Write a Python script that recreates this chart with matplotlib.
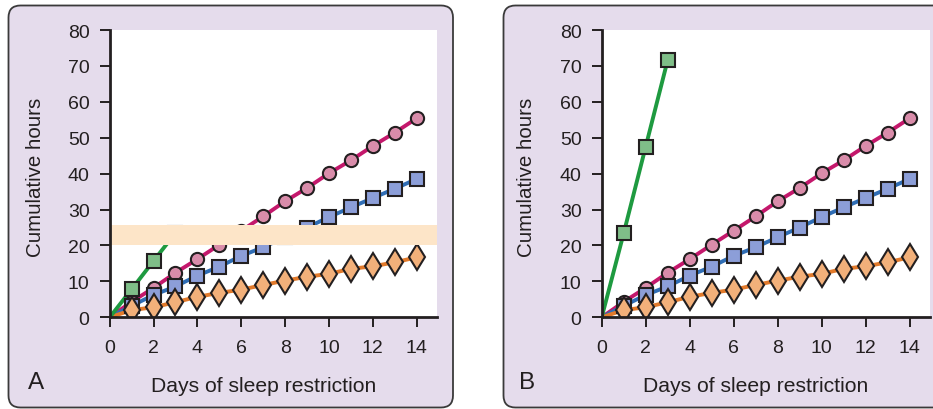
import matplotlib
matplotlib.use("Agg")
import matplotlib.pyplot as plt
from matplotlib.patches import FancyBboxPatch

plt.rcParams['font.family'] = ['Liberation Sans', 'DejaVu Sans']

# Cumulative hours of sleep loss by day of restriction
days = list(range(0, 15))
days_total = [0, 1, 2, 3]

hours_4h = [0, 4.3, 8.2, 12.4, 16.2, 20.2, 24.1, 28.1, 32.3, 36.0, 40.1, 43.7, 47.7, 51.4, 55.4]
hours_6h = [0, 3.2, 6.2, 8.6, 11.6, 14.1, 17.1, 19.5, 22.3, 25.0, 27.9, 30.6, 33.2, 35.8, 38.5]
hours_8h = [0, 2.0, 2.8, 4.2, 5.7, 6.8, 7.7, 9.0, 10.2, 11.3, 12.1, 13.5, 14.2, 15.3, 16.7]
hours_total_a = [0, 7.8, 15.7, 23.5]
hours_total_b = [0, 23.4, 47.5, 71.6]

# Shaded band in panel A (hours)
band_a = [20.1, 25.7]

x_ticks = [0, 2, 4, 6, 8, 10, 12, 14]
y_ticks = [0, 10, 20, 30, 40, 50, 60, 70, 80]
x_label = "Days of sleep restriction"
y_label = "Cumulative hours"
panel_letters = ["A", "B"]

W, H = 933, 410
fig = plt.figure(figsize=(W / 100, H / 100), dpi=100)

# Panel frames drawn in pixel units on a full-figure background axes
bg = fig.add_axes([0, 0, 1, 1])
bg.set_xlim(0, W)
bg.set_ylim(H, 0)
bg.axis('off')
lav = '#E5DCEC'
edge = '#3a3a3a'
for (x0, x1) in [(8.5, 453), (503.5, 950)]:
    p = FancyBboxPatch((x0 + 12, 6.5 + 12), (x1 - x0) - 24, (408.5 - 6.5) - 24,
                       boxstyle="round,pad=12", facecolor=lav, edgecolor=edge,
                       linewidth=1.3)
    bg.add_patch(p)

ink = '#231F20'
series = [
    (hours_4h, '#C4186C', '#D98CAA', 'o', 9.5),
    (hours_6h, '#2F6DB5', '#8C9ED8', 's', 9.5),
    (hours_8h, '#E27A2B', '#F2B07A', 'd', 13.0),
]


def setup(ax, letter, green_vals, band=None):
    ax.set_facecolor('white')
    for vals, lc, fc, mk, ms in series:
        ax.plot(days, vals, color=lc, lw=2.8, zorder=2, solid_capstyle='round')
    ax.plot(days_total, green_vals, color='#1E9A40', lw=2.8, zorder=2)
    for vals, lc, fc, mk, ms in series:
        ax.plot(days[1:], vals[1:], ls='none', marker=mk, ms=ms, mfc=fc,
                mec=ink, mew=1.5, zorder=3)
    ax.plot(days_total[1:], green_vals[1:], ls='none', marker='s', ms=10,
            mfc='#7FBE88', mec=ink, mew=1.5, zorder=4)
    if band is not None:
        ax.axhspan(band[0], band[1], color='#FDE5C8', zorder=5, lw=0)
    ax.set_xlim(0, 14.93)
    ax.set_ylim(0, 80)
    ax.set_xticks(x_ticks)
    ax.set_yticks(y_ticks)
    for s in ['top', 'right']:
        ax.spines[s].set_visible(False)
    for s in ['left', 'bottom']:
        ax.spines[s].set_color(ink)
        ax.spines[s].set_linewidth(2.0)
        ax.spines[s].set_zorder(6)
    ax.tick_params(axis='both', direction='out', length=7.5, width=1.4,
                   color=ink, labelcolor=ink, labelsize=14)
    ax.tick_params(axis='y', pad=7)
    ax.tick_params(axis='x', pad=8)
    ax.set_xlabel(x_label, fontsize=15.2, color=ink)
    ax.xaxis.label.set_va('center')
    ax.xaxis.set_label_coords(0.47, -0.236)
    ax.set_ylabel(y_label, fontsize=14.8, color=ink)
    ax.yaxis.label.set_va('center')
    ax.yaxis.set_label_coords(-0.228, 0.49)
    ax.text(-0.226, -0.226, letter, transform=ax.transAxes, fontsize=17.5,
            color=ink, ha='center', va='center')


ax_a = fig.add_axes([109.7 / W, 1 - 318.3 / H, 327.3 / W, 287.3 / H])
setup(ax_a, panel_letters[0], hours_total_a, band_a)

ax_b = fig.add_axes([601.7 / W, 1 - 318.3 / H, 328.3 / W, 287.3 / H])
setup(ax_b, panel_letters[1], hours_total_b)

fig.savefig('out.png', dpi=100)
